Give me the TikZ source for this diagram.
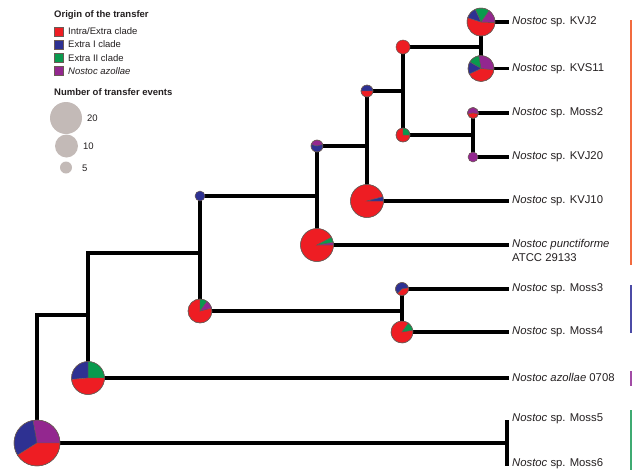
\documentclass[tikz,border=0pt]{standalone}
\usepackage{fontspec}
\setmainfont{Liberation Sans}
\definecolor{pr}{HTML}{EE1D23}
\definecolor{pb}{HTML}{2E3192}
\definecolor{pg}{HTML}{0A9A4E}
\definecolor{pp}{HTML}{93278F}
\definecolor{pedge}{HTML}{6B5A55}
\definecolor{lgray}{HTML}{C3BAB7}
\definecolor{txt}{HTML}{231F20}
\definecolor{barO}{HTML}{F26B3F}
\definecolor{barB}{HTML}{4C4BA6}
\definecolor{barP}{HTML}{A24CA6}
\definecolor{barG}{HTML}{3FAA72}
% wedge: center, radius, from angle, to angle (visual, ccw), colour
\newcommand\wdg[5]{\filldraw[fill=#5,draw=pedge,line width=0.4pt] (#1) -- ++({-(#3)}:#2) arc[start angle={-(#3)},end angle={-(#4)},radius=#2] -- cycle;}
\newcommand\rim[2]{\draw[pedge,line width=0.5pt] (#1) circle[radius=#2];}
\newcommand\full[3]{\filldraw[fill=#3,draw=pedge,line width=0.5pt] (#1) circle[radius=#2];}
\begin{document}
\begin{tikzpicture}[x=1pt,y=-1pt,
  branch/.style={line width=3.2pt,line join=miter,draw=black},
  leaf/.style={anchor=west,inner sep=0pt,text=txt,font=\fontsize{11.3}{13}\selectfont},
  legtitle/.style={anchor=west,inner sep=0pt,text=txt,font=\fontsize{9.5}{11}\selectfont\bfseries},
  legtext/.style={anchor=west,inner sep=0pt,text=txt,font=\fontsize{9.5}{11}\selectfont},
  sq/.style={draw=pedge,line width=0.3pt,minimum size=9pt,inner sep=0pt},
  sizecirc/.style={fill=lgray,circle,inner sep=0pt},
  cbar/.style={line width=2.5pt}]
\useasboundingbox (0,0) rectangle (633,472);
% pie centres
\coordinate (Pkvj2) at (481,22);
\coordinate (Pkvs11) at (481,68.5);
\coordinate (Na) at (403,47);
\coordinate (Pmoss2) at (473,113);
\coordinate (Pkvj20) at (473,157);
\coordinate (Nb) at (403,135);
\coordinate (Nc) at (367,91);
\coordinate (Pkvj10) at (367,201);
\coordinate (Nd) at (317,146);
\coordinate (Ppunct) at (317,245);
\coordinate (Ne) at (200,196);
\coordinate (Nf) at (200,311);
\coordinate (Pmoss3) at (402,289);
\coordinate (Pmoss4) at (402,332);
\coordinate (Ng) at (88,378);
\coordinate (Root) at (37,443);
\coordinate (Jef) at (200,253);
\coordinate (Jroot) at (88,315);
% leaf ends
\coordinate (Ekvj2) at (509,22);
\coordinate (Ekvs11) at (509,68.5);
\coordinate (Emoss2) at (509,113);
\coordinate (Ekvj20) at (509,157);
\coordinate (Ekvj10) at (509,201);
\coordinate (Epunct) at (509,245);
\coordinate (Emoss3) at (509,289);
\coordinate (Emoss4) at (509,332);
\coordinate (Eazol) at (509,378);
\coordinate (Bmid) at (507,443);
\coordinate (Btop) at (507,420);
\coordinate (Bbot) at (507,466);
% branches
\draw[branch] (Pkvj2) -- (Ekvj2);
\draw[branch] (Pkvs11) -- (Ekvs11);
\draw[branch] (Pkvj2) -- (Pkvs11);
\draw[branch] (Na) -- (Na -| Pkvj2);
\draw[branch] (Pmoss2) -- (Emoss2);
\draw[branch] (Pkvj20) -- (Ekvj20);
\draw[branch] (Pmoss2) -- (Pkvj20);
\draw[branch] (Nb) -- (Nb -| Pmoss2);
\draw[branch] (Na) -- (Nb);
\draw[branch] (Nc) -- (Nc -| Na);
\draw[branch] (Nc) -- (Pkvj10);
\draw[branch] (Pkvj10) -- (Ekvj10);
\draw[branch] (Nd) -- (Nd -| Nc);
\draw[branch] (Nd) -- (Ppunct);
\draw[branch] (Ppunct) -- (Epunct);
\draw[branch] (Ne) -- (Ne -| Nd);
\draw[branch] (Ne) -- (Nf);
\draw[branch] (Nf) -- (Nf -| Pmoss3);
\draw[branch] (Pmoss3) -- (Pmoss4);
\draw[branch] (Pmoss3) -- (Emoss3);
\draw[branch] (Pmoss4) -- (Emoss4);
\draw[branch] (Ng) |- (Jef);
\draw[branch] (Ng) -- (Eazol);
\draw[branch] (Root) |- (Jroot);
\draw[branch] (Root) -- (Bmid);
\draw[branch] (Btop) -- (Bbot);
% pies
\wdg{Pkvj2}{14}{162}{358}{pr}\wdg{Pkvj2}{14}{-2}{55}{pp}\wdg{Pkvj2}{14}{55}{115}{pg}\wdg{Pkvj2}{14}{115}{162}{pb}\rim{Pkvj2}{14}
\wdg{Pkvs11}{13}{205}{355}{pr}\wdg{Pkvs11}{13}{-5}{100}{pp}\wdg{Pkvs11}{13}{100}{150}{pg}\wdg{Pkvs11}{13}{150}{205}{pb}\rim{Pkvs11}{13}
\full{Na}{7}{pr}
\wdg{Pmoss2}{5.5}{-10}{190}{pp}\wdg{Pmoss2}{5.5}{190}{350}{pr}\rim{Pmoss2}{5.5}
\full{Pkvj20}{5}{pp}
\wdg{Nb}{7}{90}{360}{pr}\wdg{Nb}{7}{0}{90}{pg}\rim{Nb}{7}
\wdg{Nc}{6}{0}{180}{pb}\wdg{Nc}{6}{180}{360}{pr}\rim{Nc}{6}
\wdg{Nd}{6}{15}{165}{pp}\wdg{Nd}{6}{165}{375}{pb}\rim{Nd}{6}
\wdg{Pkvj10}{16.5}{15}{360}{pr}\wdg{Pkvj10}{16.5}{0}{15}{pb}\rim{Pkvj10}{16.5}
\wdg{Ppunct}{16.5}{28}{360}{pr}\wdg{Ppunct}{16.5}{0}{10}{pp}\wdg{Ppunct}{16.5}{10}{28}{pg}\rim{Ppunct}{16.5}
\full{Ne}{5}{pb}
\wdg{Nf}{12}{90}{375}{pr}\wdg{Nf}{12}{15}{55}{pp}\wdg{Nf}{12}{55}{90}{pg}\rim{Nf}{12}
\wdg{Pmoss3}{6.5}{10}{225}{pb}\wdg{Pmoss3}{6.5}{225}{370}{pr}\rim{Pmoss3}{6.5}
\wdg{Pmoss4}{11}{55}{370}{pr}\wdg{Pmoss4}{11}{10}{55}{pg}\rim{Pmoss4}{11}
\wdg{Ng}{16.5}{0}{90}{pg}\wdg{Ng}{16.5}{90}{185}{pb}\wdg{Ng}{16.5}{185}{360}{pr}\rim{Ng}{16.5}
\wdg{Root}{23}{0}{100}{pp}\wdg{Root}{23}{100}{212}{pb}\wdg{Root}{23}{212}{360}{pr}\rim{Root}{23}
% leaf labels
\node[leaf] (lkvj2) at (512,22) {\textit{Nostoc} sp. KVJ2};
\node[leaf] (lkvs11) at (512,68.5) {\textit{Nostoc} sp. KVS11};
\node[leaf] (lmoss2) at (512,113) {\textit{Nostoc} sp. Moss2};
\node[leaf] (lkvj20) at (512,157) {\textit{Nostoc} sp. KVJ20};
\node[leaf] (lkvj10) at (512,201) {\textit{Nostoc} sp. KVJ10};
\node[leaf] (lpunct) at (512,244.5) {\textit{Nostoc punctiforme}};
\node[leaf] (latcc) at (512,258) {ATCC 29133};
\node[leaf] (lmoss3) at (512,289) {\textit{Nostoc} sp. Moss3};
\node[leaf] (lmoss4) at (512,332) {\textit{Nostoc} sp. Moss4};
\node[leaf] (lazol) at (512,377) {\textit{Nostoc azollae} 0708};
\node[leaf] (lmoss5) at (512,419) {\textit{Nostoc} sp. Moss5};
\node[leaf] (lmoss6) at (512,464) {\textit{Nostoc} sp. Moss6};
% clade bars
\draw[cbar,barO] (631,20) coordinate (o1) -- (631,265) coordinate (o2);
\draw[cbar,barB] (631,285) coordinate (b1) -- (631,333) coordinate (b2);
\draw[cbar,barP] (631,371) coordinate (p1) -- (631,386) coordinate (p2);
\draw[cbar,barG] (631,410) coordinate (g1) -- (631,470) coordinate (g2);
% legend
\node[legtitle] (lt1) at (54,15) {Origin of the transfer};
\node[sq,fill=pr] (s1) at (58.5,31.5) {};
\node[sq,fill=pb] (s2) at (58.5,44.5) {};
\node[sq,fill=pg] (s3) at (58.5,58) {};
\node[sq,fill=pp] (s4) at (58.5,71) {};
\node[legtext] (t1) at (68,31.5) {Intra/Extra clade};
\node[legtext] (t2) at (68,44.5) {Extra I clade};
\node[legtext] (t3) at (68,58) {Extra II clade};
\node[legtext] (t4) at (68,71) {\textit{Nostoc azollae}};
\node[legtitle] (lt2) at (54,92) {Number of transfer events};
\node[sizecirc,minimum size=32pt] (c20) at (66,118) {};
\node[sizecirc,minimum size=23pt] (c10) at (66.5,146) {};
\node[sizecirc,minimum size=12pt] (c5) at (66,167.5) {};
\node[legtext] (n20) at (87,118) {20};
\node[legtext] (n10) at (83,146) {10};
\node[legtext] (n5) at (82,168) {5};
\end{tikzpicture}
\end{document}
